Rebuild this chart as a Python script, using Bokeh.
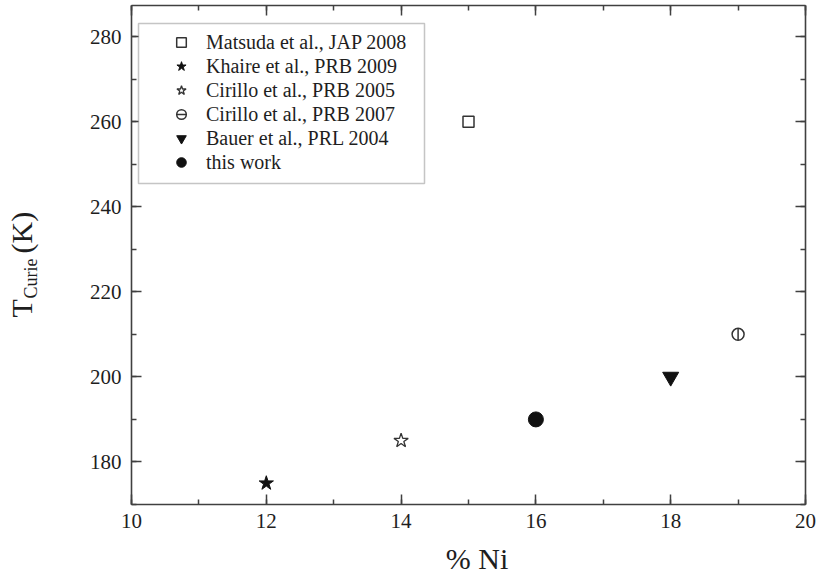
import math

from bokeh.plotting import figure
from bokeh.models import (Range1d, LinearAxis, SingleIntervalTicker, Legend, LegendItem,
                          Label, BoxAnnotation, CustomJSTickFormatter)
from bokeh.embed import file_html
from bokeh.resources import INLINE

FONT = "Liberation Serif"
INK = "#1e1e1e"
AXIS = "#404040"

# Curie temperature (K) against Ni content (%), one point per source
matsuda_ni, matsuda_tc = [15], [260]
khaire_ni, khaire_tc = [12], [175]
cirillo05_ni, cirillo05_tc = [14], [185]
cirillo07_ni, cirillo07_tc = [19], [210]
bauer_ni, bauer_tc = [18], [200]
this_ni, this_tc = [16], [190]

legend_labels = [
    "Matsuda et al., JAP 2008",
    "Khaire et al., PRB 2009",
    "Cirillo et al., PRB 2005",
    "Cirillo et al., PRB 2007",
    "Bauer et al., PRL 2004",
    "this work",
]

x_label = "% Ni"
y_label_main, y_label_sub, y_label_unit = "T", "Curie", "(K)"

X_LO, X_HI = 10, 20
Y_LO, Y_HI = 170, 287.3
W, H = 819, 576
B_LEFT, B_RIGHT, B_TOP, B_BOTTOM = 130, 14, 5, 72
FRAME_W = W - B_LEFT - B_RIGHT
FRAME_H = H - B_TOP - B_BOTTOM


def from_frame(dx, dy):
    """Pixel offset from the frame's lower-left corner -> data coordinates."""
    return (X_LO + dx * (X_HI - X_LO) / FRAME_W,
            Y_LO + dy * (Y_HI - Y_LO) / FRAME_H)


p = figure(width=W, height=H,
           x_range=Range1d(X_LO, X_HI), y_range=Range1d(Y_LO, Y_HI),
           x_axis_location=None, y_axis_location=None,
           output_backend="svg", toolbar_location=None,
           min_border_left=B_LEFT, min_border_right=B_RIGHT,
           min_border_top=B_TOP, min_border_bottom=B_BOTTOM)
p.grid.visible = False
p.outline_line_color = None
p.background_fill_color = "white"
p.border_fill_color = "white"


def frame_axis(interval, show_labels):
    ax = LinearAxis(ticker=SingleIntervalTicker(interval=interval, num_minor_ticks=2))
    ax.axis_line_color = AXIS
    ax.axis_line_width = 1.6
    ax.major_tick_line_color = AXIS
    ax.major_tick_line_width = 1.5
    ax.minor_tick_line_color = AXIS
    ax.minor_tick_line_width = 1.5
    ax.major_tick_in = 10
    ax.major_tick_out = 0
    ax.minor_tick_in = 5
    ax.minor_tick_out = 0
    if show_labels:
        ax.major_label_text_font = FONT
        ax.major_label_text_font_size = "21px"
        ax.major_label_text_color = INK
    else:
        ax.formatter = CustomJSTickFormatter(code="return ''")
        ax.major_label_standoff = 0
    return ax


bottom = frame_axis(2, True)
bottom.major_label_standoff = 9
left = frame_axis(20, True)
left.major_label_standoff = 10
p.add_layout(bottom, "below")
p.add_layout(left, "left")
p.add_layout(frame_axis(2, False), "above")
p.add_layout(frame_axis(20, False), "right")

hollow = dict(fill_color=None, line_color="#333333", line_width=1.5)
solid = dict(fill_color="#111111", line_color="#111111")

r_matsuda = p.scatter(matsuda_ni, matsuda_tc, marker="square", size=11, **hollow)
r_khaire = p.scatter(khaire_ni, khaire_tc, marker="star", size=15, **solid)
r_cir05 = p.scatter(cirillo05_ni, cirillo05_tc, marker="star", size=15,
                    fill_color=None, line_color="#333333", line_width=1.3)
r_cir07a = p.scatter(cirillo07_ni, cirillo07_tc, marker="circle", size=12, **hollow)
r_cir07b = p.scatter(cirillo07_ni, cirillo07_tc, marker="dash", size=12, angle=math.pi / 2,
                     line_color="#333333", line_width=1.5)
r_bauer = p.scatter(bauer_ni, bauer_tc, marker="inverted_triangle", size=16, **solid)
r_this = p.scatter(this_ni, this_tc, marker="circle", size=15, **solid)

# framed box behind the legend entries
box = BoxAnnotation(left=7, right=293, top=481, bottom=321,
                    left_units="screen", right_units="screen",
                    top_units="screen", bottom_units="screen",
                    fill_color="white", fill_alpha=1.0,
                    line_color=AXIS, line_width=1.5, level="annotation")
p.add_layout(box)

renderer_groups = [[r_matsuda], [r_khaire], [r_cir05], [r_cir07a, r_cir07b], [r_bauer], [r_this]]
items = [LegendItem(label=lab, renderers=rs) for lab, rs in zip(legend_labels, renderer_groups)]
legend = Legend(items=items, location=(25, 330),
                padding=8, spacing=0, margin=0,
                glyph_width=50, glyph_height=24, label_height=24, label_standoff=0,
                label_text_font=FONT, label_text_font_size="20px", label_text_color=INK,
                border_line_color=None, background_fill_alpha=0.0)
p.add_layout(legend)

# axis titles, placed in the side panels so they are not clipped by the frame
lx, ly = from_frame(346, -54)
p.add_layout(Label(x=lx, y=ly, text=x_label,
                   text_font=FONT, text_font_size="30px", text_color=INK,
                   text_align="center", text_baseline="alphabetic"), "below")
for txt, dx, dy, size in [(y_label_main, -110, 187, "30px"),
                          (y_label_sub, -101, 206, "18px"),
                          (y_label_unit, -110, 251, "30px")]:
    tx, ty = from_frame(dx, dy)
    p.add_layout(Label(x=tx, y=ty, text=txt, angle=math.pi / 2,
                       text_font=FONT, text_font_size=size, text_color=INK,
                       text_align="left", text_baseline="alphabetic"), "left")

open("out.html", "w").write(file_html(p, INLINE))
